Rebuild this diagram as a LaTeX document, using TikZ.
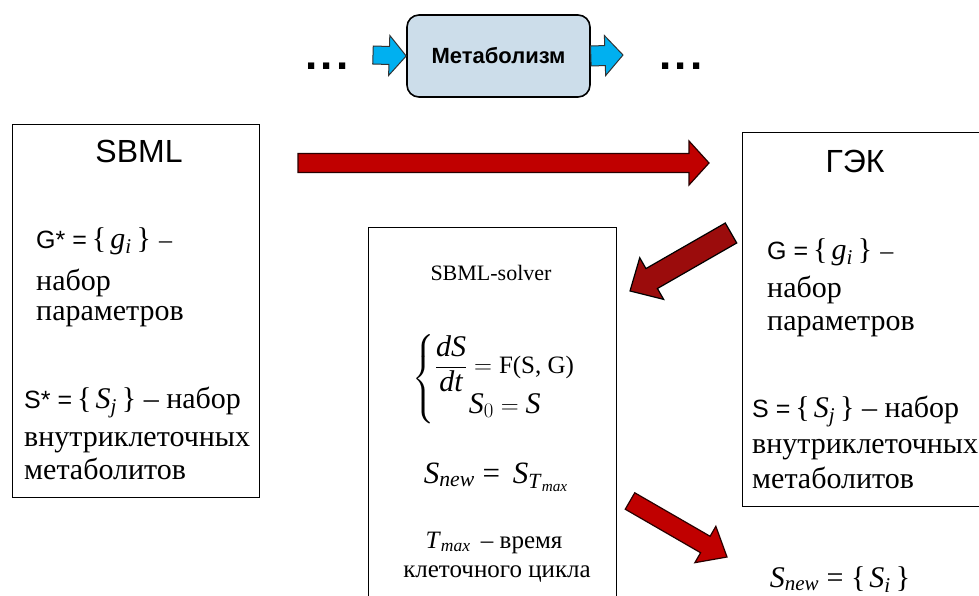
\documentclass[tikz,border=0pt]{standalone}
\usepackage{amsmath}
\usepackage{fontspec}
\setmainfont{Liberation Serif}
\setsansfont{Liberation Sans}
\usetikzlibrary{calc}

\definecolor{metabfill}{RGB}{204,221,234}
\definecolor{flowblue}{RGB}{0,176,240}
\definecolor{flowred}{RGB}{192,0,0}
\definecolor{flowdark}{RGB}{155,12,12}
\definecolor{edgedark}{RGB}{40,0,0}

\newcommand{\fsz}[1]{\fontsize{#1}{#1}\selectfont}
% italic serif letters for formulas
\newcommand{\vi}[1]{\textit{#1}}
% set braces {x} in text mode
\newcommand{\setof}[1]{\{\kern4pt#1\kern5pt\}}

% block arrow: [style]{tail}{tip}{shaft half width}{head half width}{head length}
\newcommand{\blockarrow}[6][]{%
  \coordinate (hb) at ($(#3)!#6!(#2)$);
  \draw[#1] ($(#2)!#4!90:(#3)$) -- ($(hb)!#4!-90:(#2)$) -- ($(hb)!#5!-90:(#2)$)
    -- (#3) -- ($(hb)!#5!90:(#2)$) -- ($(hb)!#4!90:(#2)$) -- ($(#2)!#4!-90:(#3)$) -- cycle;
}

\begin{document}
\begin{tikzpicture}[x=1pt,y=-1pt,
  panel/.style={draw=black, line width=1.4pt, inner sep=0pt},
  line/.style={inner sep=0pt, anchor=base west, font=\fsz{30}},
  ctr/.style={inner sep=0pt, anchor=base},
  redarrow/.style={fill=flowred, draw=edgedark, line width=1.2pt, line join=miter},
  darkarrow/.style={fill=flowdark, draw=black, line width=1.2pt, line join=miter},
  bluearrow/.style={fill=flowblue, draw=black!80, line width=1pt, line join=miter}]
\useasboundingbox (0,0) rectangle (979,596);
\clip (0,0) rectangle (979,596);

% ---- top: metabolism stage ----
\node[panel, draw=black, line width=1.6pt, rounded corners=12pt, fill=metabfill,
      minimum width=183pt, minimum height=82pt] (met) at (498.5,56)
      {\sffamily\bfseries\fsz{22}Метаболизм};
\node[ctr, font=\sffamily\bfseries\fsz{44}] (dotsL) at (327,70) {.\kern3pt.\kern3pt.};
\node[ctr, font=\sffamily\bfseries\fsz{44}] (dotsR) at (681,70) {.\kern3pt.\kern3pt.};
\coordinate (inT) at (373,55);
\coordinate (outH) at (623,55);
\blockarrow[bluearrow]{inT}{met.west}{9pt}{20pt}{17pt}
\blockarrow[bluearrow]{met.east}{outH}{10pt}{20pt}{18pt}

% ---- left panel: SBML ----
\node[panel, minimum width=247pt, minimum height=373pt, anchor=north west] (sbml) at (12,124) {};
\node[ctr, font=\sffamily\fsz{32}] (sbmlT) at (139,163) {SBML};
\node[line] (lg) at (36,248) {{\sffamily\fsz{25}G* =}\kern5pt\setof{\vi{g}\textsubscript{\vi{i}}}\kern8pt{\fsz{26}–}};
\node[line] (lg2) at (36,290) {набор};
\node[line] (lg3) at (36,320) {параметров};
\node[line] (ls) at (24,408) {{\sffamily\fsz{25}S* =}\kern5pt\setof{\vi{S}\textsubscript{\vi{j}}} – набор};
\node[line] (ls2) at (24,446) {внутриклеточных};
\node[line] (ls3) at (24,479) {метаболитов};

% ---- right panel: ГЭК ----
\node[panel, minimum width=250pt, minimum height=374pt, anchor=north west] (gek) at (742,132) {};
\node[ctr, font=\sffamily\fsz{32}] (gekT) at (855,172) {ГЭК};
\node[line] (rg) at (767,259) {{\sffamily\fsz{25}G =}\kern5pt\setof{\vi{g}\textsubscript{\vi{i}}}\kern8pt{\fsz{26}–}};
\node[line] (rg2) at (767,297) {набор};
\node[line] (rg3) at (767,330) {параметров};
\node[line] (rs) at (752,417) {{\sffamily\fsz{25}S =}\kern5pt\setof{\vi{S}\textsubscript{\vi{j}}} – набор};
\node[line] (rs2) at (752,453) {внутриклеточных};
\node[line] (rs3) at (752,488) {метаболитов};

% ---- middle panel: solver ----
\node[panel, minimum width=248pt, minimum height=400pt, anchor=north west] (solver) at (368,227) {};
\node[ctr, font=\fsz{22}] (solT) at (491,280) {SBML-solver};
\node[inner sep=0pt, font=\fsz{30}] (ode) at (494,379)
  {$\left\{\begin{array}{@{}l@{}}\dfrac{\vi{dS}}{\vi{dt}} = \text{\fsz{25}F(S, G)}\\[4pt]
   \hspace{34pt}\vi{S}_{0} = \vi{S}\end{array}\right.$};
\node[ctr, font=\fsz{31}] (snew) at (496,483) {\vi{S}\textsubscript{\vi{new}} = \,\vi{S}\textsubscript{\vi{T}\textsubscript{\vi{max}}}};
\node[ctr, font=\fsz{25}] (tmax) at (494,548) {\vi{T}\textsubscript{\vi{max}} \,– время};
\node[ctr, font=\fsz{25}] (cyc) at (497,577) {клеточного цикла};

% ---- result ----
\node[ctr, font=\fsz{30}] (res) at (840,587) {\vi{S}\textsubscript{\vi{new}} = \setof{\vi{S}\textsubscript{\vi{i}}}};

% ---- transfer arrows ----
\coordinate (hT) at (298,163);
\coordinate (hH) at (709,163);
\blockarrow[redarrow]{hT}{hH}{9.5pt}{22pt}{20pt}
\coordinate (dT) at (731,233);
\coordinate (dH) at (630,291);
\blockarrow[darkarrow]{dT}{dH}{11.5pt}{24pt}{25pt}
\coordinate (lT) at (630,501);
\coordinate (lH) at (727,557);
\blockarrow[redarrow]{lT}{lH}{9.5pt}{21pt}{25pt}
\end{tikzpicture}
\end{document}
